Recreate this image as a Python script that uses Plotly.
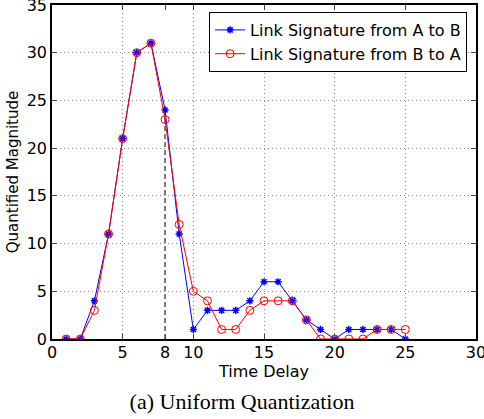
import plotly.graph_objects as go

time_delay = list(range(1, 26))
sig_a_to_b = [0, 0, 4, 11, 21, 30, 31, 24, 11, 1, 3, 3, 3, 4, 6, 6, 4, 2, 1, 0, 1, 1, 1, 1, 0]
sig_b_to_a = [0, 0, 3, 11, 21, 30, 31, 23, 12, 5, 4, 1, 1, 3, 4, 4, 4, 2, 0, 0, 0, 0, 1, 1, 1]
marker_delay = 8
x_ticks = [0, 5, 8, 10, 15, 20, 25, 30]
grid_x = [5, 10, 15, 20, 25]
y_ticks = [0, 5, 10, 15, 20, 25, 30, 35]

fig = go.Figure()
peak_at_marker = sig_a_to_b[time_delay.index(marker_delay)]
fig.add_trace(go.Scatter(x=[marker_delay, marker_delay], y=[0, peak_at_marker], mode="lines",
                         line=dict(color="#555555", width=1.5, dash="5px,3px"), showlegend=False,
                         hoverinfo="skip"))
fig.add_trace(go.Scatter(x=time_delay, y=sig_a_to_b, mode="lines+markers",
                         name="Link Signature from A to B",
                         line=dict(color="#0000ff", width=1),
                         marker=dict(symbol="asterisk-open", size=6, color="#0000ff",
                                     line=dict(color="#0000ff", width=1.5))))
fig.add_trace(go.Scatter(x=time_delay, y=sig_b_to_a, mode="lines+markers",
                         name="Link Signature from B to A",
                         line=dict(color="#ff0000", width=1),
                         marker=dict(symbol="circle-open", size=8, color="#ff0000",
                                     line=dict(color="#ff0000", width=1))))
# invisible trace on grid axis
fig.add_trace(go.Scatter(x=[0, 30], y=[0, 35], xaxis="x2", mode="markers",
                         marker=dict(opacity=0), showlegend=False, hoverinfo="skip"))

font = "DejaVu Sans, sans-serif"
grid_style = dict(showgrid=True, gridcolor="#888888", griddash="1px,3px", gridwidth=1)
fig.update_layout(
    width=484, height=419,
    margin=dict(l=52, r=8, t=5, b=80, autoexpand=False),
    paper_bgcolor="white", plot_bgcolor="white",
    font=dict(family=font, size=16, color="black"),
    xaxis=dict(range=[0, 30], tickvals=x_ticks, ticks="inside", ticklen=5,
               showgrid=False, zeroline=False, showline=True, linecolor="black",
               linewidth=1.5, mirror="ticks", tickfont=dict(size=16), automargin=False,
               ticklabeloverflow="allow", ticklabelstandoff=-2,
               title=dict(text="Time Delay", font=dict(size=16), standoff=0)),
    xaxis2=dict(range=[0, 30], overlaying="x", tickvals=grid_x, showticklabels=False,
                zeroline=False, showline=False, ticks="", automargin=False, **grid_style),
    yaxis=dict(range=[0, 35], tickvals=y_ticks, ticks="inside", ticklen=5,
               zeroline=False, showline=True, linecolor="black", linewidth=1.5,
               mirror="ticks", tickfont=dict(size=16), automargin=False,
               ticklabeloverflow="allow", **grid_style,
               title=dict(text="Quantified Magnitude", font=dict(size=15), standoff=4)),
    legend=dict(x=0.979, y=0.979, xanchor="right", yanchor="top",
                bgcolor="white", bordercolor="black", borderwidth=1,
                font=dict(size=16), tracegroupgap=0, itemwidth=30),
    title=dict(text="(a) Uniform Quantization", x=0.5, xanchor="center",
               xref="container", yref="container", y=0.025, yanchor="bottom",
               font=dict(family="Liberation Serif, Times New Roman, serif", size=22)),
)
fig.write_html("out.html", config={"displayModeBar": False},
               post_script="document.body.style.margin='0';")
